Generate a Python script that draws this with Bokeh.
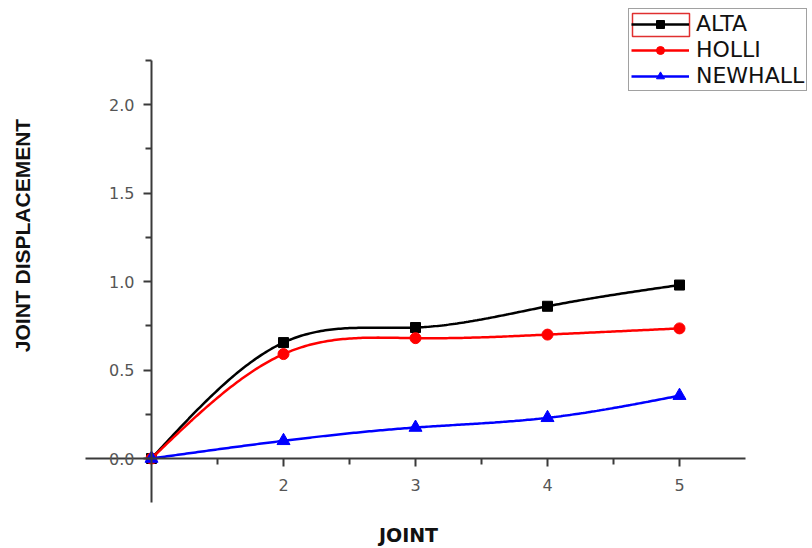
import numpy as np
from bokeh.plotting import figure
from bokeh.models import (LinearAxis, FixedTicker, Range1d, Legend, LegendItem,
                          Label, BoxAnnotation, PrintfTickFormatter)
from bokeh.embed import file_html
from bokeh.resources import INLINE

# ---- data ----
joints = [1, 2, 3, 4, 5]
alta = [0.0, 0.655, 0.74, 0.86, 0.98]
holli = [0.0, 0.59, 0.68, 0.70, 0.735]
newhall = [0.0, 0.10, 0.175, 0.23, 0.355]

x_major = [2, 3, 4, 5]
x_minor = [1.5, 2.5, 3.5, 4.5]
y_major = [0.0, 0.5, 1.0, 1.5, 2.0]
y_minor = [0.25, 0.75, 1.25, 1.75, 2.25]


def natural_spline(xs, ys, n=60):
    """Smooth rendering (natural cubic spline) through the data points."""
    x = np.asarray(xs, float)
    y = np.asarray(ys, float)
    k = len(x)
    h = np.diff(x)
    A = np.zeros((k, k))
    b = np.zeros(k)
    A[0, 0] = A[-1, -1] = 1.0
    for i in range(1, k - 1):
        A[i, i - 1] = h[i - 1]
        A[i, i] = 2 * (h[i - 1] + h[i])
        A[i, i + 1] = h[i]
        b[i] = 6 * ((y[i + 1] - y[i]) / h[i] - (y[i] - y[i - 1]) / h[i - 1])
    M = np.linalg.solve(A, b)
    xx, yy = [], []
    for i in range(k - 1):
        t = np.linspace(x[i], x[i + 1], n, endpoint=(i == k - 2))
        a = x[i + 1] - t
        c = t - x[i]
        s = (M[i] * a ** 3 + M[i + 1] * c ** 3) / (6 * h[i]) \
            + (y[i] / h[i] - M[i] * h[i] / 6) * a \
            + (y[i + 1] / h[i] - M[i + 1] * h[i] / 6) * c
        xx.extend(t)
        yy.extend(s)
    return xx, yy


W, H = 812, 548
X0_PX, Y0_PX = 151.0, 458.0   # pixel position of (1, 0)
PX_X, PX_Y = 132.0, 177.0     # pixels per unit


def dx(px):
    return 1 + (px - X0_PX) / PX_X


def dy(py):
    return (Y0_PX - py) / PX_Y


p = figure(width=W, height=H,
           x_range=Range1d(dx(0), dx(W)),
           y_range=Range1d(dy(H), dy(0)),
           x_axis_location=None, y_axis_location=None,
           output_backend="svg", toolbar_location=None,
           min_border=0, min_border_left=0, min_border_right=0,
           min_border_top=0, min_border_bottom=0)
p.outline_line_color = None
p.background_fill_color = "white"
p.border_fill_color = "white"
p.grid.visible = False
for g in list(p.center):
    g.visible = False

tick_font = "DejaVu Sans"

xaxis = LinearAxis(fixed_location=0, bounds=(0.5, 5.5),
                   ticker=FixedTicker(ticks=x_major, minor_ticks=x_minor))
yaxis = LinearAxis(fixed_location=1, bounds=(-0.25, 2.25),
                   ticker=FixedTicker(ticks=y_major, minor_ticks=y_minor),
                   formatter=PrintfTickFormatter(format="%.1f"))
for ax in (xaxis, yaxis):
    ax.axis_line_color = "#3a3a3a"
    ax.axis_line_width = 2
    ax.major_tick_line_color = "#3a3a3a"
    ax.minor_tick_line_color = "#3a3a3a"
    ax.major_tick_line_width = 2
    ax.minor_tick_line_width = 2
    ax.major_tick_in = 0
    ax.minor_tick_in = 0
    ax.major_tick_out = 8
    ax.minor_tick_out = 6
    ax.major_label_text_font = tick_font
    ax.major_label_text_font_size = "16px"
    ax.major_label_text_color = "#555555"
xaxis.major_label_standoff = 12
yaxis.major_label_standoff = 9
p.add_layout(xaxis, "below")
p.add_layout(yaxis, "left")

series = [("ALTA", alta, "black", "square", 10),
          ("HOLLI", holli, "red", "circle", 11),
          ("NEWHALL", newhall, "blue", "triangle", 13)]
items = []
for name, vals, col, mk, sz in series:
    sx, sy = natural_spline(joints, vals)
    ln = p.line(sx, sy, line_color=col, line_width=2.5)
    sc = p.scatter(joints, vals, marker=mk, size=sz, fill_color=col, line_color=col)
    items.append(LegendItem(label=name, renderers=[ln, sc]))

# red selection box around the first legend glyph (page decoration)
p.add_layout(BoxAnnotation(left=dx(632), right=dx(689), top=dy(13), bottom=dy(36),
                           fill_alpha=0, line_color="#e03030", line_alpha=1.0,
                           line_width=1.5))

legend = Legend(items=items, location=(628, H - 91), margin=0, padding=2,
                spacing=1, glyph_width=58, glyph_height=20, label_height=20,
                label_standoff=7, label_text_font=tick_font,
                label_text_font_size="22px", label_text_color="#111111",
                border_line_color="#444444", border_line_width=1.5,
                background_fill_alpha=0.0)
p.add_layout(legend)

p.add_layout(Label(x=dx(408), y=dy(534), text="JOINT",
                   text_font="DejaVu Sans", text_font_style="bold",
                   text_font_size="19px", text_align="center",
                   text_baseline="middle", text_color="#111111"))
p.add_layout(Label(x=dx(22), y=dy(235),
                   text="JOINT DISPLACEMENT", angle=np.pi / 2,
                   text_font="Liberation Sans", text_font_style="bold",
                   text_font_size="21px", text_align="center",
                   text_baseline="middle", text_color="#111111"))

open("out.html", "w").write(file_html(p, INLINE))
